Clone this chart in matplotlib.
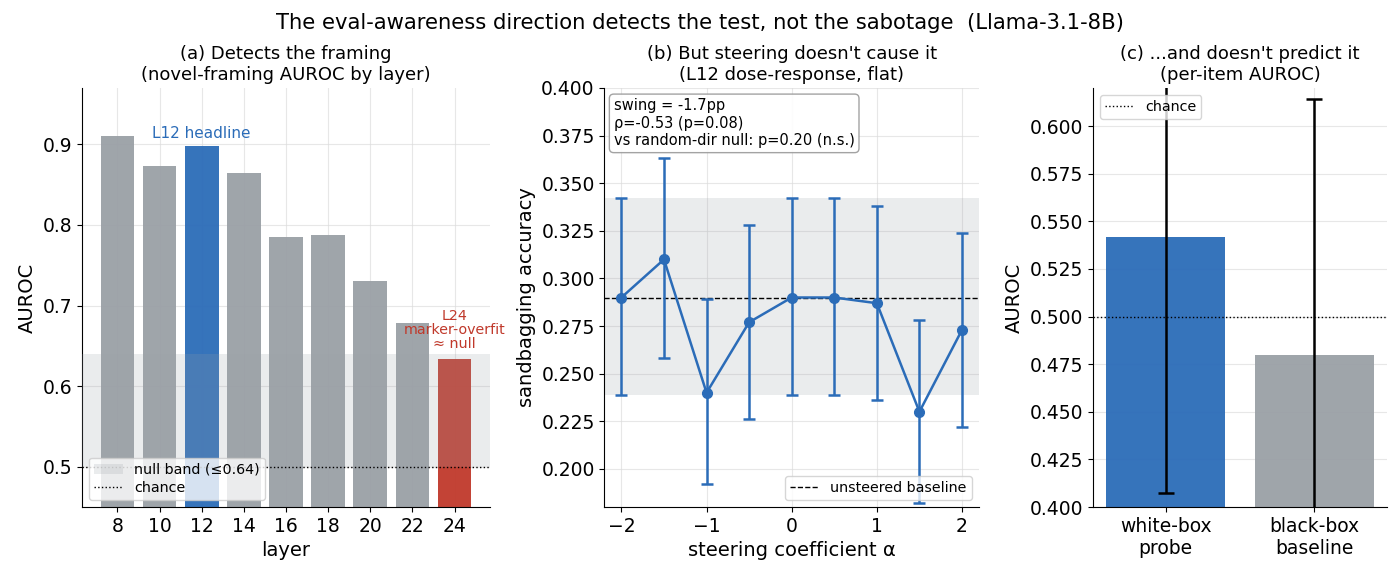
import matplotlib
matplotlib.use("Agg")
import matplotlib.pyplot as plt
import numpy as np
from matplotlib.patches import Patch
from matplotlib.lines import Line2D

# ---- data ----
layers = [8, 10, 12, 14, 16, 18, 20, 22, 24]
layer_auroc = [0.910, 0.873, 0.898, 0.865, 0.785, 0.787, 0.731, 0.678, 0.634]
null_band_top = 0.64
chance = 0.5

alphas = [-2.0, -1.5, -1.0, -0.5, 0.0, 0.5, 1.0, 1.5, 2.0]
sand_acc = [0.290, 0.310, 0.240, 0.277, 0.290, 0.290, 0.287, 0.230, 0.273]
sand_lo = [0.239, 0.258, 0.192, 0.226, 0.239, 0.239, 0.236, 0.182, 0.222]
sand_hi = [0.342, 0.363, 0.289, 0.328, 0.342, 0.342, 0.338, 0.278, 0.324]
baseline = 0.290
baseline_lo = 0.239
baseline_hi = 0.342

methods = ["white-box\nprobe", "black-box\nbaseline"]
method_auroc = [0.542, 0.480]
method_lo = [0.4075, 0.346]
method_hi = [0.676, 0.614]

BLUE = "#2b6cb8"
GRAY = "#9aa0a6"
RED = "#c0392b"
BAND = "#9aa0a6"

TICK = 13.5
LAB = 14
TTL = 13
LEG = 10.3

fig = plt.figure(figsize=(14, 5.77), dpi=100)
fig.suptitle("The eval-awareness direction detects the test, not the sabotage  (Llama-3.1-8B)",
             fontsize=15.2, y=0.977)

def style(ax):
    ax.spines["top"].set_visible(False)
    ax.spines["right"].set_visible(False)
    ax.grid(True, color="#dddddd", linewidth=0.8, alpha=0.7)
    ax.set_axisbelow(True)
    ax.tick_params(labelsize=TICK)

# ---- panel a ----
ax1 = fig.add_axes([0.0586, 0.1213, 0.2914, 0.7262])
style(ax1)
cols = [BLUE if l == 12 else (RED if l == 24 else GRAY) for l in layers]
ax1.bar(layers, layer_auroc, width=1.6, color=cols, alpha=0.95, zorder=2)
ax1.axhspan(chance, null_band_top, color=BAND, alpha=0.2, zorder=3, lw=0)
ax1.axhline(chance, color="black", linestyle=":", linewidth=1.0, zorder=4)
ax1.set_ylim(0.45, 0.97)
ax1.set_xticks(layers)
ax1.set_xlabel("layer", fontsize=LAB)
ax1.set_ylabel("AUROC", fontsize=LAB)
ax1.set_title("(a) Detects the framing\n(novel-framing AUROC by layer)", fontsize=TTL)
ax1.text(12, layer_auroc[2] + 0.006, "L12 headline", color=BLUE, ha="center", va="bottom", fontsize=11)
ax1.text(24, layer_auroc[-1] + 0.010, "L24\nmarker-overfit\n≈ null", color=RED, ha="center",
         va="bottom", fontsize=10.3, linespacing=1.0)
h1 = [Patch(facecolor=BAND, alpha=0.2, label="null band (≤0.64)"),
      Line2D([], [], color="black", linestyle=":", linewidth=1.0, label="chance")]
ax1.legend(handles=h1, loc="lower left", fontsize=LEG, framealpha=0.8,
           borderpad=0.35, labelspacing=0.3)

# ---- panel b ----
ax2 = fig.add_axes([0.4317, 0.1213, 0.2676, 0.7262])
style(ax2)
ax2.axhspan(baseline_lo, baseline_hi, color=BAND, alpha=0.2, lw=0, zorder=1)
ax2.axhline(baseline, color="black", linestyle="--", linewidth=1.0, zorder=2,
            label="unsteered baseline")
yerr = [np.array(sand_acc) - np.array(sand_lo), np.array(sand_hi) - np.array(sand_acc)]
ax2.errorbar(alphas, sand_acc, yerr=yerr, color=BLUE, marker="o", markersize=7,
             linewidth=1.8, capsize=4, capthick=1.8, elinewidth=1.8, zorder=3)
ax2.set_ylim(0.18, 0.40)
ax2.set_xlim(-2.2, 2.2)
ax2.set_yticks(np.arange(0.2, 0.401, 0.025))
ax2.yaxis.set_major_formatter(matplotlib.ticker.FormatStrFormatter("%.3f"))
ax2.set_xlabel("steering coefficient α", fontsize=LAB)
ax2.set_ylabel("sandbagging accuracy", fontsize=LAB)
ax2.set_title("(b) But steering doesn't cause it\n(L12 dose-response, flat)", fontsize=TTL)
ax2.text(0.025, 0.975, "swing = -1.7pp\nρ=-0.53 (p=0.08)\nvs random-dir null: p=0.20 (n.s.)",
         transform=ax2.transAxes, ha="left", va="top", fontsize=10.5,
         bbox=dict(boxstyle="round,pad=0.3", facecolor="white", edgecolor="#999999", alpha=0.9))
ax2.legend(loc="lower right", fontsize=LEG, framealpha=0.8, borderpad=0.35)

# ---- panel c ----
ax3 = fig.add_axes([0.7807, 0.1213, 0.2100, 0.7262])
style(ax3)
x3 = np.arange(len(methods))
yerr3 = [np.array(method_auroc) - np.array(method_lo), np.array(method_hi) - np.array(method_auroc)]
ax3.bar(x3, method_auroc, width=0.8, color=[BLUE, GRAY], alpha=0.95, zorder=2,
        yerr=yerr3, error_kw=dict(ecolor="black", capsize=6, elinewidth=1.8, capthick=1.8))
ax3.axhline(chance, color="black", linestyle=":", linewidth=1.0, zorder=4, label="chance")
ax3.set_ylim(0.40, 0.62)
ax3.set_xticks(x3)
ax3.set_xticklabels(methods, fontsize=TICK)
ax3.yaxis.set_major_formatter(matplotlib.ticker.FormatStrFormatter("%.3f"))
ax3.set_ylabel("AUROC", fontsize=LAB)
ax3.set_title("(c) ...and doesn't predict it\n(per-item AUROC)", fontsize=TTL)
ax3.legend(loc="upper left", fontsize=LEG, framealpha=0.8, borderpad=0.35)

fig.savefig("out.png", dpi=100)
